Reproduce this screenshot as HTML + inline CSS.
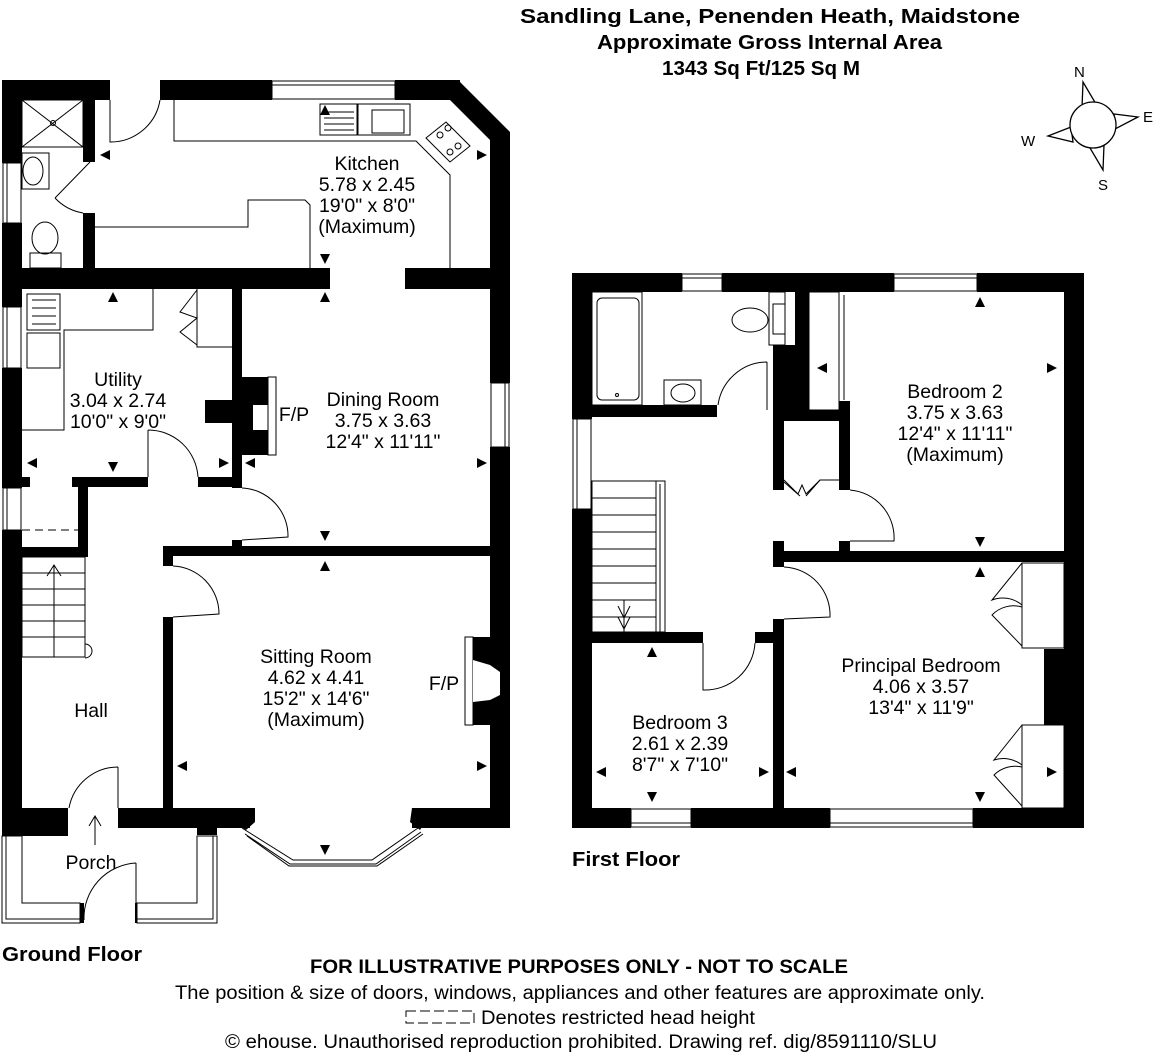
<!DOCTYPE html>
<html><head><meta charset="utf-8"><style>
html,body{margin:0;padding:0;background:#fff}
svg{display:block}
text{font-family:"Liberation Sans",Arial,sans-serif;fill:#000}
</style></head><body>
<svg width="1160" height="1064" viewBox="0 0 1160 1064" xmlns="http://www.w3.org/2000/svg">
<defs>
<path id="au" d="M-5,5 L5,5 L0,-5 Z"/>
<path id="ad" d="M-5,-5 L5,-5 L0,5 Z"/>
<path id="al" d="M5,-5 L5,5 L-5,0 Z"/>
<path id="ar" d="M-5,-5 L-5,5 L5,0 Z"/>
</defs>
<!-- Header -->
<g font-weight="bold" font-size="20">
<text x="520" y="23" textLength="500" lengthAdjust="spacingAndGlyphs">Sandling Lane, Penenden Heath, Maidstone</text>
<text x="597" y="49" textLength="345" lengthAdjust="spacingAndGlyphs">Approximate Gross Internal Area</text>
<text x="662" y="75" textLength="198" lengthAdjust="spacingAndGlyphs">1343 Sq Ft/125 Sq M</text>
</g>
<!-- Compass -->
<g stroke="#000" stroke-width="1.3" fill="#fff">
<polygon points="1083,82 1082,108 1096,104"/>
<polygon points="1138,117 1114,114 1115,129"/>
<polygon points="1103,170 1104,145 1090,148"/>
<polygon points="1048,136 1071,127 1073,142"/>
<circle cx="1093" cy="125" r="23"/>
</g>
<g font-size="15"><text x="1074" y="77">N</text><text x="1143" y="122">E</text><text x="1098" y="190">S</text><text x="1021" y="146">W</text></g>

<!-- ================= GROUND FLOOR ================= -->
<g fill="#000">
<rect x="2" y="80" width="108" height="20"/>
<rect x="160" y="80" width="112" height="20"/>
<rect x="395" y="80" width="65" height="20"/>
<polygon points="458,80 510,132 510,160 490,160 490,140 450,100 458,100"/>
<rect x="490" y="140" width="20" height="243"/>
<rect x="490" y="447" width="20" height="381"/>
<rect x="2" y="80" width="20" height="83"/>
<rect x="2" y="223" width="20" height="84"/>
<rect x="2" y="368" width="20" height="120"/>
<rect x="2" y="530" width="20" height="306"/>
<rect x="83" y="100" width="12" height="62"/>
<rect x="83" y="213" width="12" height="56"/>
<rect x="2" y="268" width="328" height="21"/>
<rect x="405" y="268" width="105" height="21"/>
<rect x="232" y="289" width="10" height="199"/>
<rect x="232" y="540" width="10" height="7"/>
<rect x="22" y="477" width="8" height="10"/>
<rect x="72" y="477" width="76" height="10"/>
<rect x="198" y="477" width="44" height="10"/>
<rect x="78" y="477" width="10" height="80"/>
<rect x="22" y="547" width="66" height="10"/>
<rect x="163" y="546" width="347" height="10"/>
<rect x="163" y="546" width="10" height="20"/>
<rect x="163" y="617" width="10" height="191"/>
<rect x="2" y="808" width="66" height="28"/>
<rect x="118" y="808" width="132" height="20"/>
<rect x="412" y="808" width="98" height="20"/>
<rect x="197" y="828" width="20" height="7"/>
<rect x="78" y="903" width="6" height="20"/>
<rect x="135" y="903" width="7" height="20"/>
<rect x="242" y="377" width="26" height="78"/>
<rect x="205" y="400" width="37" height="23"/>
<rect x="473" y="637" width="17" height="88"/>
</g>
<g fill="#fff" stroke="#000" stroke-width="1">
<rect x="253" y="405" width="15" height="25" stroke="none"/>
<rect x="268" y="377" width="8" height="78"/>
<rect x="465" y="637" width="8" height="88"/>
<path d="M473,660 L490,665 L500,672 L500,695 L490,700 L473,702 Z" stroke="none"/>
<rect x="272" y="81" width="123" height="18"/><line x1="272" y1="85" x2="395" y2="85"/>
<rect x="491" y="383" width="18" height="64"/><line x1="505" y1="383" x2="505" y2="447"/>
<rect x="3" y="163" width="18" height="60"/><line x1="7" y1="163" x2="7" y2="223"/>
<rect x="3" y="307" width="18" height="61"/><line x1="7" y1="307" x2="7" y2="368"/>
<rect x="3" y="488" width="18" height="42"/><line x1="7" y1="488" x2="7" y2="530"/>
<polygon points="2,836 22,836 22,903 80,903 80,923 2,923"/>
<polyline points="6,836 6,919 80,919" fill="none"/>
<polygon points="137,903 197,903 197,836 217,836 217,923 137,923"/>
<polyline points="137,919 213,919 213,836" fill="none"/>
</g>
<g fill="none" stroke="#000" stroke-width="1">
<polyline points="242,828 293,860 372,860 418,828"/>
<polyline points="245,834 290,864 376,864 421,832"/>
<polyline points="247,836 289,866 377,866 423,834"/>
</g>
<polygon points="242,808 255,808 255,822 246,830 240,826" fill="#000"/>
<polygon points="412,808 418,808 425,822 420,830 410,822" fill="#000"/>
<g fill="none" stroke="#000" stroke-width="1">
<rect x="22" y="100" width="61" height="47"/>
<line x1="22" y1="100" x2="83" y2="147"/><line x1="83" y1="100" x2="22" y2="147"/>
<circle cx="53" cy="123" r="2.5"/>
<rect x="22" y="153" width="27" height="36"/><ellipse cx="33" cy="171" rx="10" ry="14"/>
<ellipse cx="45" cy="238" rx="13" ry="16"/><rect x="30" y="253" width="31" height="15"/>
<path d="M90,162 L55,198 M55,198 A50,50 0 0 0 83,213"/>
<path d="M110,100 L110,142 A50,50 0 0 0 160,100"/>
<polyline points="174,100 174,141 416,141 450,175 450,268"/>
<polyline points="95,227 248,227 248,200 305,200 310,205 310,268"/>
<rect x="320" y="104" width="37" height="31"/>
<rect x="358" y="104" width="52" height="31"/>
<rect x="372" y="110" width="32" height="23"/>
<line x1="324" y1="112" x2="354" y2="112"/><line x1="324" y1="118" x2="354" y2="118"/><line x1="324" y1="124" x2="354" y2="124"/><line x1="324" y1="130" x2="354" y2="130"/>
<polygon points="426,138 446,122 470,146 450,162"/>
<circle cx="440" cy="135" r="3"/><circle cx="448" cy="128" r="3"/><circle cx="458" cy="146" r="3"/><circle cx="450" cy="152" r="3"/>
<polyline points="153,289 153,330 64,330 64,430 22,430"/>
<rect x="27" y="294" width="33" height="36"/><rect x="27" y="333" width="33" height="35"/>
<line x1="32" y1="300" x2="56" y2="300"/><line x1="32" y1="308" x2="56" y2="308"/><line x1="32" y1="316" x2="56" y2="316"/><line x1="32" y1="324" x2="56" y2="324"/>
<polyline points="197,289 197,347 232,347"/>
<path d="M197,290 L180,312 L197,318 L180,332 L197,345"/>
<path d="M148,430 L148,477 M148,430 A50,50 0 0 1 198,477"/>
<path d="M242,488 A48,48 0 0 1 288,537 L242,540"/>
<path d="M173,566 A48,48 0 0 1 219,614 L173,617"/>
<line x1="22" y1="530" x2="78" y2="530" stroke-dasharray="8,5"/>
<rect x="22" y="557" width="63" height="100"/>
<line x1="22" y1="573" x2="85" y2="573"/><line x1="22" y1="589" x2="85" y2="589"/><line x1="22" y1="605" x2="85" y2="605"/><line x1="22" y1="621" x2="85" y2="621"/><line x1="22" y1="637" x2="85" y2="637"/>
<line x1="54" y1="657" x2="54" y2="565"/><polyline points="47,576 54,565 61,576"/>
<path d="M85,644 A7,7 0 0 1 85,658"/>
<path d="M118,767 L118,808 M118,767 A50,50 0 0 0 69,808"/>
<line x1="95" y1="845" x2="95" y2="816"/><polyline points="89,826 95,816 101,826"/>
<path d="M136,863 L136,903 M136,863 A55,55 0 0 0 84,920"/>
</g>
<g fill="#000">
<use href="#au" x="325" y="110"/>
<use href="#al" x="105" y="155"/>
<use href="#ar" x="482" y="155"/>
<use href="#ad" x="325" y="259"/>
<use href="#au" x="325" y="297"/>
<use href="#au" x="113" y="297"/>
<use href="#al" x="32" y="463"/>
<use href="#ad" x="113" y="467"/>
<use href="#ar" x="224" y="463"/>
<use href="#al" x="250" y="463"/>
<use href="#ar" x="482" y="463"/>
<use href="#ad" x="325" y="536"/>
<use href="#au" x="325" y="566"/>
<use href="#al" x="182" y="766"/>
<use href="#ar" x="482" y="766"/>
<use href="#ad" x="325" y="850"/>
</g>
<g font-size="19.5" text-anchor="middle">
<text x="367" y="170">Kitchen</text><text x="367" y="191">5.78 x 2.45</text><text x="367" y="212">19'0" x 8'0"</text><text x="367" y="233">(Maximum)</text>
<text x="118" y="386">Utility</text><text x="118" y="407">3.04 x 2.74</text><text x="118" y="428">10'0" x 9'0"</text>
<text x="383" y="406">Dining Room</text><text x="383" y="427">3.75 x 3.63</text><text x="383" y="448">12'4" x 11'11"</text>
<text x="316" y="663">Sitting Room</text><text x="316" y="684">4.62 x 4.41</text><text x="316" y="705">15'2" x 14'6"</text><text x="316" y="726">(Maximum)</text>
<text x="91" y="717">Hall</text>
<text x="91" y="869">Porch</text>
<text x="294" y="421">F/P</text>
<text x="444" y="690">F/P</text>
</g>
<text x="2" y="961" font-size="20" font-weight="bold" textLength="140" lengthAdjust="spacingAndGlyphs">Ground Floor</text>

<!-- ================= FIRST FLOOR ================= -->
<g fill="#000">
<rect x="572" y="273" width="110" height="19"/>
<rect x="722" y="273" width="172" height="19"/>
<rect x="977" y="273" width="107" height="19"/>
<rect x="572" y="273" width="20" height="146"/>
<rect x="572" y="509" width="20" height="319"/>
<rect x="1064" y="273" width="20" height="555"/>
<rect x="572" y="808" width="59" height="20"/>
<rect x="691" y="808" width="139" height="20"/>
<rect x="973" y="808" width="111" height="20"/>
<rect x="592" y="405" width="125" height="12"/>
<rect x="795" y="292" width="14" height="120"/>
<rect x="773" y="345" width="22" height="67"/>
<rect x="773" y="410" width="76" height="11"/>
<rect x="773" y="421" width="11" height="69"/>
<rect x="839" y="401" width="11" height="89"/>
<rect x="773" y="541" width="11" height="26"/>
<rect x="839" y="541" width="11" height="11"/>
<rect x="784" y="551" width="280" height="11"/>
<rect x="773" y="619" width="11" height="189"/>
<rect x="592" y="632" width="111" height="11"/>
<rect x="755" y="632" width="29" height="11"/>
<rect x="1044" y="649" width="20" height="76"/>
</g>
<g fill="#fff" stroke="#000" stroke-width="1">
<rect x="682" y="274" width="40" height="17"/><line x1="682" y1="278" x2="722" y2="278"/>
<rect x="894" y="274" width="83" height="17"/><line x1="894" y1="278" x2="977" y2="278"/>
<rect x="573" y="419" width="18" height="90"/><line x1="577" y1="419" x2="577" y2="509"/>
<rect x="631" y="809" width="60" height="18"/><line x1="631" y1="823" x2="691" y2="823"/>
<rect x="830" y="809" width="143" height="18"/><line x1="830" y1="823" x2="973" y2="823"/>
</g>
<g fill="none" stroke="#000" stroke-width="1">
<rect x="592" y="292" width="50" height="113"/>
<rect x="597" y="298" width="42" height="102" rx="5"/>
<circle cx="617" cy="395" r="1.5"/>
<rect x="664" y="380" width="37" height="25"/><ellipse cx="683" cy="393" rx="12" ry="9"/>
<rect x="769" y="292" width="16" height="53"/><rect x="773" y="304" width="12" height="30"/>
<ellipse cx="750" cy="320" rx="18" ry="12"/>
<path d="M767,362 L767,410 M767,362 A50,50 0 0 0 718,405"/>
<line x1="844" y1="295" x2="844" y2="400"/>
<rect x="809" y="292" width="30" height="118"/>
<path d="M784,480 L798,494 L802,485 L806,494 L820,480 L839,480" />
<path d="M784,482 L800,496 M820,480 L806,496"/>
<path d="M850,490 A48,48 0 0 1 894,541 L850,541"/>
<path d="M784,567 A48,48 0 0 1 830,617 L784,619"/>
<path d="M703,643 L703,690 A50,50 0 0 0 755,643"/>
<rect x="592" y="481" width="73" height="151"/>
<line x1="656" y1="481" x2="656" y2="632"/><line x1="660" y1="484" x2="660" y2="632"/>
<line x1="592" y1="498" x2="656" y2="498"/><line x1="592" y1="515" x2="656" y2="515"/><line x1="592" y1="532" x2="656" y2="532"/><line x1="592" y1="549" x2="656" y2="549"/><line x1="592" y1="566" x2="656" y2="566"/><line x1="592" y1="583" x2="656" y2="583"/><line x1="592" y1="600" x2="656" y2="600"/><line x1="592" y1="617" x2="656" y2="617"/>
<line x1="624" y1="600" x2="624" y2="632"/>
<polyline points="618,606 624,618 630,606"/><polyline points="618,617 624,629 630,617"/>
<rect x="1022" y="563" width="42" height="85"/>
<path d="M1022,563 L992,600 A30,30 0 0 1 1022,605 M1022,646 L992,615 A30,30 0 0 1 1022,607"/>
<rect x="1022" y="725" width="42" height="83"/>
<path d="M1022,725 L994,760 A30,30 0 0 1 1022,765 M1022,806 L994,775 A30,30 0 0 1 1022,767"/>
</g>
<g fill="#000">
<use href="#au" x="980" y="302"/>
<use href="#ar" x="1052" y="368"/>
<use href="#al" x="822" y="368"/>
<use href="#ad" x="980" y="542"/>
<use href="#au" x="980" y="572"/>
<use href="#ar" x="1052" y="772"/>
<use href="#ad" x="980" y="797"/>
<use href="#al" x="791" y="772"/>
<use href="#au" x="652" y="652"/>
<use href="#ad" x="652" y="797"/>
<use href="#al" x="601" y="772"/>
<use href="#ar" x="764" y="772"/>
</g>
<g font-size="19.5" text-anchor="middle">
<text x="955" y="398">Bedroom 2</text><text x="955" y="419">3.75 x 3.63</text><text x="955" y="440">12'4" x 11'11"</text><text x="955" y="461">(Maximum)</text>
<text x="921" y="672">Principal Bedroom</text><text x="921" y="693">4.06 x 3.57</text><text x="921" y="714">13'4" x 11'9"</text>
<text x="680" y="729">Bedroom 3</text><text x="680" y="750">2.61 x 2.39</text><text x="680" y="771">8'7" x 7'10"</text>
</g>
<text x="572" y="866" font-size="20" font-weight="bold" textLength="108" lengthAdjust="spacingAndGlyphs">First Floor</text>

<!-- Footer -->
<text x="310" y="973" font-size="19" font-weight="bold" textLength="538" lengthAdjust="spacingAndGlyphs">FOR ILLUSTRATIVE PURPOSES ONLY - NOT TO SCALE</text>
<text x="175" y="999" font-size="19" textLength="810" lengthAdjust="spacingAndGlyphs">The position &amp; size of doors, windows, appliances and other features are approximate only.</text>
<rect x="406" y="1011" width="68" height="12" fill="none" stroke="#000" stroke-width="1" stroke-dasharray="10,4"/>
<text x="481" y="1024" font-size="19" textLength="274" lengthAdjust="spacingAndGlyphs">Denotes restricted head height</text>
<text x="225" y="1048" font-size="19" textLength="712" lengthAdjust="spacingAndGlyphs">© ehouse. Unauthorised reproduction prohibited. Drawing ref. dig/8591110/SLU</text>
</svg>
</body></html>
